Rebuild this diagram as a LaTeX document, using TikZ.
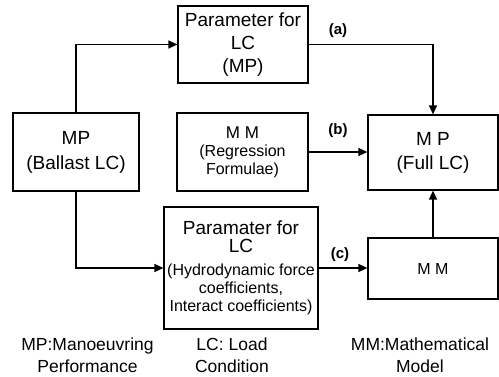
\documentclass[tikz,border=0pt]{standalone}
\usepackage{fontspec}
\setmainfont{Liberation Sans}
\usetikzlibrary{arrows.meta}
\newcommand\bigf{\fontsize{19}{24}\selectfont}
\newcommand\smallf{\fontsize{16}{18}\selectfont}
\begin{document}
\begin{tikzpicture}[x=1pt,y=-1pt,
  box/.style={draw,line width=1.2pt,inner sep=0pt,align=center},
  conn/.style={line width=1.4pt,-{Triangle[length=9pt,width=8pt]}},
  lab/.style={font=\fontsize{15}{17}\selectfont\bfseries},
  note/.style={align=center,font=\fontsize{17.5}{22}\selectfont}]
\useasboundingbox (0,0) rectangle (499,376);
\node[box,font=\fontsize{19}{23}\selectfont,minimum width=130pt,minimum height=77pt] (param1) at (243,44.5)
  {Parameter for\\LC\\(MP)};
\node[box,font=\fontsize{19}{25}\selectfont,minimum width=126pt,minimum height=78pt] (ballast) at (76,152)
  {MP\\(Ballast LC)};
\node[box,font=\smallf,minimum width=131pt,minimum height=78pt] (regr) at (242.5,152)
  {\fontsize{17}{20}\selectfont M M\\\smallf(Regression\\\smallf Formulae)};
\node[box,font=\fontsize{19}{24}\selectfont,minimum width=130pt,minimum height=75pt] (full) at (433,152.5)
  {M P\\(Full LC)};
\node[box,font=\smallf,minimum width=154pt,minimum height=122pt] (param2) at (241,268)
  {\fontsize{19}{21}\selectfont Paramater for\\\fontsize{19}{21}\selectfont LC\\[5pt]\smallf(Hydrodynamic force\\\smallf coefficients,\\\smallf Interact coefficients)};
\node[box,font=\fontsize{16}{19}\selectfont,minimum width=130pt,minimum height=61pt] (mm) at (433,268.5)
  {M M};
\draw[conn] (ballast.north) |- (param1.west);
\draw[conn] (param1.east) -| (full.north);
\draw[conn] (regr.east) -- (regr.east -| full.west);
\draw[conn] (ballast.south) |- (param2.west);
\draw[conn] (param2.east) -- (param2.east -| mm.west);
\draw[conn] (mm.north) -- (full.south);
\node[lab] (la) at (338,30.5) {(a)};
\node[lab] (lb) at (338,130.5) {(b)};
\node[lab] (lc) at (340,255) {(c)};
\node[note] (n1) at (87.5,355.5) {MP:Manoeuvring\\Performance};
\node[note] (n2) at (232,355.5) {LC: Load\\Condition};
\node[note] (n3) at (420,355.5) {MM:Mathematical\\Model};
\end{tikzpicture}
\end{document}
